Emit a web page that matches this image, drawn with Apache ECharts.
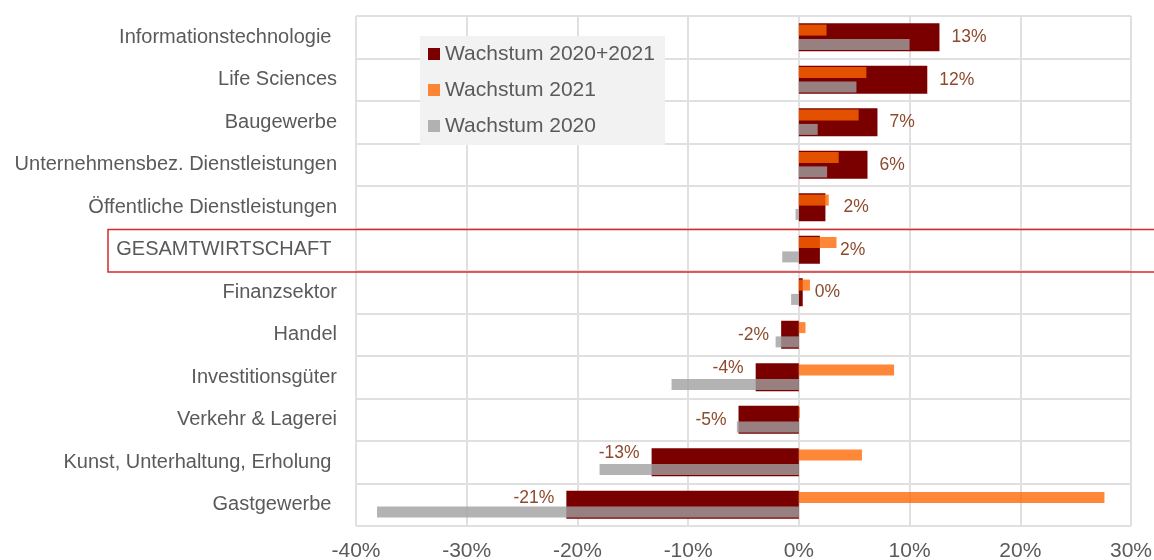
<!DOCTYPE html>
<html>
<head>
<meta charset="utf-8">
<script src="https://cdn.jsdelivr.net/npm/echarts@6/dist/echarts.min.js"></script>
<style>
html,body{margin:0;padding:0;background:#fff;}
#chart{width:1154px;height:560px;}
</style>
</head>
<body>
<div id="chart"></div>
<script>
// ---- data ----
const categories = [
  'Informationstechnologie ',
  'Life Sciences',
  'Baugewerbe',
  'Unternehmensbez. Dienstleistungen',
  'Öffentliche Dienstleistungen',
  'GESAMTWIRTSCHAFT ',
  'Finanzsektor',
  'Handel',
  'Investitionsgüter',
  'Verkehr & Lagerei',
  'Kunst, Unterhaltung, Erholung ',
  'Gastgewerbe '
];
const seriesNames = ['Wachstum 2020+2021', 'Wachstum 2021', 'Wachstum 2020'];
const growth2020_2021 = [12.7, 11.6, 7.1, 6.2, 2.4, 1.9, 0.35, -1.6, -3.9, -5.45, -13.3, -21.0];
const growth2021 = [2.5, 6.1, 5.4, 3.6, 2.7, 3.4, 1.0, 0.6, 8.6, 0.1, 5.7, 27.6];
const growth2020 = [10.0, 5.2, 1.7, 2.55, -0.3, -1.5, -0.7, -2.1, -11.5, -5.6, -18.0, -38.1];
const xMin = -40, xMax = 30, xStep = 10;
const highlightCategory = 'GESAMTWIRTSCHAFT ';

// ---- styling (label nudges, not data) ----
const labelNudge = {
  'Öffentliche Dienstleistungen': [6, 0],
  'GESAMTWIRTSCHAFT ': [8, 0],
  'Investitionsgüter': [0, -9],
  'Kunst, Unterhaltung, Erholung ': [0, -9],
  'Gastgewerbe ': [0, -7]
};

const FONT = 'Liberation Sans, Arial, Helvetica, sans-serif';
const TXT = '#5a5a5a';
const GRIDC = '#e0e0e0';

const chart = echarts.init(document.getElementById('chart'), null, {renderer: 'canvas'});

const totalData = growth2020_2021.map((v, i) => ({
  value: v,
  label: {
    position: v < 0 ? 'left' : 'right',
    offset: labelNudge[categories[i]] || [0, 0]
  }
}));

const option = {
  animation: false,
  backgroundColor: '#ffffff',
  grid: {left: 356, right: 23, top: 16, bottom: 34, containLabel: false, outerBoundsMode: 'none'},
  legend: {
    orient: 'vertical',
    left: 420,
    top: 36,
    backgroundColor: '#f2f2f2',
    padding: [6, 10, 7, 8],
    itemWidth: 12,
    itemHeight: 12,
    itemGap: 12,
    itemTextGap: 5,
    icon: 'rect',
    textStyle: {fontFamily: FONT, fontSize: 21, lineHeight: 24, color: TXT},
    data: seriesNames
  },
  xAxis: {
    type: 'value',
    min: xMin, max: xMax, interval: xStep,
    axisLine: {show: false},
    axisTick: {show: false},
    axisLabel: {formatter: '{value}%', fontFamily: FONT, fontSize: 21, color: TXT, margin: 15},
    splitLine: {show: true, lineStyle: {color: GRIDC, width: 2}}
  },
  yAxis: [{
    type: 'category',
    data: categories,
    inverse: true,
    axisLine: {show: false, onZero: false},
    axisTick: {show: false},
    axisLabel: {fontFamily: FONT, fontSize: 20, color: TXT, margin: 19},
    splitLine: {show: true, lineStyle: {color: GRIDC, width: 2}}
  }, {
    type: 'category',
    data: categories,
    inverse: true,
    show: false,
    axisLine: {show: false, onZero: false},
    splitLine: {show: false}
  }],
  series: [{
    name: seriesNames[0],
    type: 'bar',
    yAxisIndex: 0,
    barWidth: 28,
    itemStyle: {color: '#7a0000'},
    label: {
      show: true,
      distance: 12,
      fontFamily: FONT,
      fontSize: 17.5,
      color: '#8e4a2c',
      formatter: p => Math.round(p.value) + '%'
    },
    data: totalData,
    z: 2
  }, {
    name: seriesNames[1],
    type: 'bar',
    yAxisIndex: 1,
    barWidth: 11,
    barGap: '30%',
    itemStyle: {color: 'rgba(255,102,0,0.78)'},
    data: growth2021,
    z: 3
  }, {
    name: seriesNames[2],
    type: 'bar',
    yAxisIndex: 1,
    barWidth: 11,
    barGap: '30%',
    itemStyle: {color: 'rgba(160,160,160,0.8)'},
    data: growth2020,
    z: 3
  }]
};

chart.setOption(option);

// highlight box around the total-economy row, placed from the axis scale
const cy = chart.convertToPixel({yAxisIndex: 0}, highlightCategory);
const band = chart.getModel().getComponent('yAxis', 0).axis.getBandWidth();
chart.setOption({
  graphic: [{
    type: 'rect',
    silent: true,
    z: 100,
    shape: {x: 108, y: Math.round(cy - band / 2) + 0.5, width: 1100, height: band},
    style: {fill: 'none', stroke: '#d42a2a', lineWidth: 1.5}
  }]
});
</script>
</body>
</html>
